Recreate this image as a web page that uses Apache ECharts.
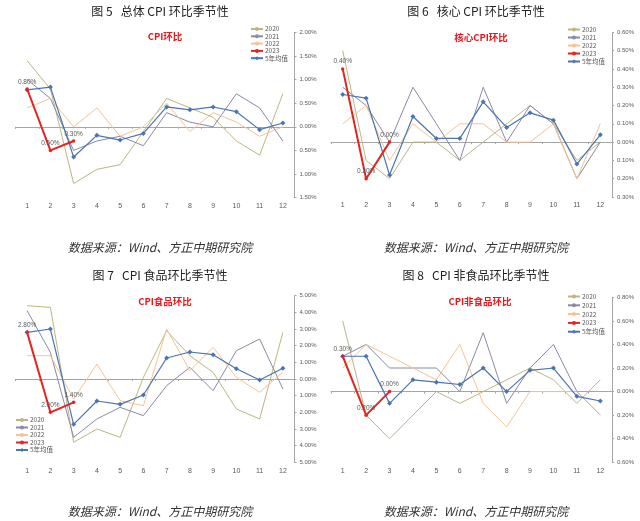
<!DOCTYPE html>
<html>
<head>
<meta charset="utf-8">
<script src="https://cdn.jsdelivr.net/npm/echarts@6/dist/echarts.min.js"></script>
<style>
html,body{margin:0;padding:0;background:#fff;}
#main{width:640px;height:521px;}
</style>
</head>
<body>
<div id="main"></div>
<script>
// ---- data ----
const months = ['1','2','3','4','5','6','7','8','9','10','11','12'];
const seriesNames = ['2020','2021','2022','2023','5年均值'];

// 图5 总体CPI环比 (%)
const cpi2020 = [1.4, 0.8, -1.2, -0.9, -0.8, -0.1, 0.6, 0.4, 0.2, -0.3, -0.6, 0.7];
const cpi2021 = [1.0, 0.6, -0.5, -0.3, -0.2, -0.4, 0.3, 0.1, 0.0, 0.7, 0.4, -0.3];
const cpi2022 = [0.4, 0.6, 0.0, 0.4, -0.2, 0.0, 0.5, -0.1, 0.3, 0.1, -0.2, 0.0];
const cpi2023 = [0.8, -0.5, -0.3];
const cpiAvg  = [0.78, 0.84, -0.64, -0.18, -0.28, -0.14, 0.42, 0.36, 0.42, 0.32, -0.06, 0.08];

// 图6 核心CPI环比 (%)
const core2020 = [0.5, -0.1, -0.2, 0.0, 0.0, -0.1, 0.0, 0.1, 0.2, 0.1, -0.1, 0.0];
const core2021 = [0.3, 0.2, 0.0, 0.3, 0.1, -0.1, 0.3, 0.0, 0.2, 0.1, -0.2, 0.0];
const core2022 = [0.1, 0.2, -0.1, 0.1, 0.0, 0.1, 0.1, 0.0, 0.0, 0.1, -0.2, 0.1];
const core2023 = [0.4, -0.2, 0.0];
const coreAvg  = [0.26, 0.24, -0.18, 0.14, 0.02, 0.02, 0.22, 0.08, 0.16, 0.12, -0.12, 0.04];

// 图7 CPI食品环比 (%)
const food2020 = [4.4, 4.3, -3.8, -3.0, -3.5, 0.1, 2.9, 1.4, 0.4, -1.8, -2.4, 2.8];
const food2021 = [4.1, 1.6, -3.5, -2.4, -1.7, -2.2, -0.4, 0.7, -0.7, 1.7, 2.4, -0.6];
const food2022 = [1.4, 1.4, -1.2, 0.9, -1.3, -1.6, 3.0, 0.5, 1.9, 0.1, -0.8, 0.4];
const food2023 = [2.8, -2.0, -1.4];
const foodAvg  = [2.8, 3.0, -2.72, -1.32, -1.52, -0.96, 1.26, 1.62, 1.46, 0.62, -0.06, 0.64];

// 图8 CPI非食品环比 (%)
const nf2020 = [0.6, -0.2, -0.4, -0.2, 0.0, -0.1, 0.0, 0.1, 0.2, 0.1, -0.1, 0.1];
const nf2021 = [0.3, 0.4, 0.2, 0.2, 0.2, 0.0, 0.5, -0.1, 0.2, 0.4, 0.0, -0.2];
const nf2022 = [0.2, 0.4, 0.3, 0.2, 0.1, 0.4, -0.1, -0.3, 0.0, 0.0, 0.0, -0.2];
const nf2023 = [0.3, -0.2, 0.0];
const nfAvg  = [0.3, 0.3, -0.1, 0.1, 0.08, 0.06, 0.2, 0.0, 0.18, 0.2, -0.04, -0.08];

// axis ranges
const yRanges = [
  {min: -1.5, max: 2.0, interval: 0.5},
  {min: -0.3, max: 0.6, interval: 0.1},
  {min: -5, max: 5, interval: 1},
  {min: -0.6, max: 0.8, interval: 0.2}
];
const mainTitles = ['图 5   总体 CPI 环比季节性', '图 6   核心 CPI 环比季节性', '图 7   CPI 食品环比季节性', '图 8   CPI 非食品环比季节性'];
const redTitles = ['CPI环比', '核心CPI环比', 'CPI食品环比', 'CPI非食品环比'];
const sourceText = '数据来源：Wind、方正中期研究院';

const panelData = [
  [cpi2020, cpi2021, cpi2022, cpi2023, cpiAvg],
  [core2020, core2021, core2022, core2023, coreAvg],
  [food2020, food2021, food2022, food2023, foodAvg],
  [nf2020, nf2021, nf2022, nf2023, nfAvg]
];

// ---- layout / style ----
const grids = [
  {left: 15.5, top: 32.3, width: 279, height: 165.4},
  {left: 331, top: 32.3, width: 281, height: 164.7},
  {left: 15.5, top: 295.7, width: 279, height: 166.6},
  {left: 331, top: 297.3, width: 281, height: 165}
];
const centers = [160, 476, 160, 476];
const titleTops = [5.5, 5.5, 269.5, 269.5];
const redPos = [[165, 31.5], [481, 32.5], [165, 296.5], [480, 296.5]];
const sourceTops = [241.5, 241.5, 505.5, 505.5];
const legendPos = [
  {left: 250, top: 25.5, gap: 0.3},
  {left: 567, top: 26, gap: 1},
  {left: 15, top: 416.5, gap: 0.5},
  {left: 567, top: 293, gap: 1.8}
];
const colors = ['#bdb67f', '#8b88a8', '#f5c391', '#e3251f', '#4a74b2'];
const fmt = v => Math.abs(v).toFixed(2) + '%';
const axisGray = '#a6a6a6';
const labelGray = '#595959';

const title = [], xAxis = [], yAxis = [], series = [], legend = [];
for (let i = 0; i < 4; i++) {
  title.push({text: mainTitles[i], left: centers[i], top: titleTops[i], textAlign: 'center', padding: 0,
    textStyle: {fontSize: 12, fontWeight: 'normal', color: '#222', fontFamily: 'Noto Sans CJK SC'}});
  title.push({text: redTitles[i], left: redPos[i][0], top: redPos[i][1], textAlign: 'center', padding: 0,
    textStyle: {fontSize: 9.5, fontWeight: 'bold', color: '#e8161b', fontFamily: 'Noto Sans CJK SC'}});
  title.push({text: sourceText, left: centers[i], top: sourceTops[i], textAlign: 'center', padding: 0,
    textStyle: {fontSize: 12, fontWeight: 'normal', fontStyle: 'italic', color: '#333', fontFamily: 'Noto Sans CJK SC'}});

  xAxis.push({type: 'category', gridIndex: i, data: months, position: 'bottom',
    axisLine: {show: true, onZero: true, lineStyle: {color: axisGray, width: 1}},
    axisTick: {show: true, length: 2, lineStyle: {color: axisGray}},
    axisLabel: {show: false}, splitLine: {show: false}});
  xAxis.push({type: 'category', gridIndex: i, data: months, position: 'bottom',
    axisLine: {show: false, onZero: false}, axisTick: {show: false},
    axisLabel: {show: true, fontSize: 7, color: labelGray, margin: 5, fontFamily: 'Liberation Sans'},
    splitLine: {show: false}});

  yAxis.push({type: 'value', gridIndex: i, position: 'right',
    min: yRanges[i].min, max: yRanges[i].max, interval: yRanges[i].interval,
    axisLine: {show: true, onZero: false, lineStyle: {color: axisGray}},
    axisTick: {show: true, length: 2, lineStyle: {color: axisGray}},
    splitLine: {show: false},
    axisLabel: {fontSize: 6, color: labelGray, margin: 5, fontFamily: 'Liberation Sans',
      formatter: v => fmt(v)}});

  const d = panelData[i];
  for (let s = 0; s < 5; s++) {
    const base = {name: seriesNames[s], type: 'line', xAxisIndex: 2 * i + 1, yAxisIndex: i,
      data: d[s], animation: false, color: colors[s]};
    if (s < 3) {
      Object.assign(base, {symbol: 'none', lineStyle: {width: 1, color: colors[s]}, z: 2});
    } else if (s === 3) {
      Object.assign(base, {symbol: 'circle', symbolSize: 3.5, lineStyle: {width: 2, color: colors[s]},
        itemStyle: {color: colors[s]}, z: 5,
        label: {show: true, position: 'top', distance: 2, fontSize: 6.5, color: labelGray,
          fontFamily: 'Liberation Sans', formatter: p => fmt(p.value)}});
    } else {
      Object.assign(base, {symbol: 'diamond', symbolSize: 5, lineStyle: {width: 1.2, color: colors[s]},
        itemStyle: {color: colors[s]}, z: 4});
    }
    series.push(base);
  }

  legend.push({orient: 'vertical', left: legendPos[i].left, top: legendPos[i].top,
    itemWidth: 12, itemHeight: 5, itemGap: legendPos[i].gap, padding: 0,
    data: seriesNames, selectedMode: false,
    textStyle: {fontSize: 6.5, color: labelGray, lineHeight: 7, padding: [0, 0, 0, -3], fontFamily: 'Noto Sans CJK SC'}});
}

const chart = echarts.init(document.getElementById('main'), null, {renderer: 'canvas'});
chart.setOption({
  backgroundColor: '#fff',
  animation: false,
  title: title,
  grid: grids,
  xAxis: xAxis,
  yAxis: yAxis,
  legend: legend,
  series: series
});
</script>
</body>
</html>
